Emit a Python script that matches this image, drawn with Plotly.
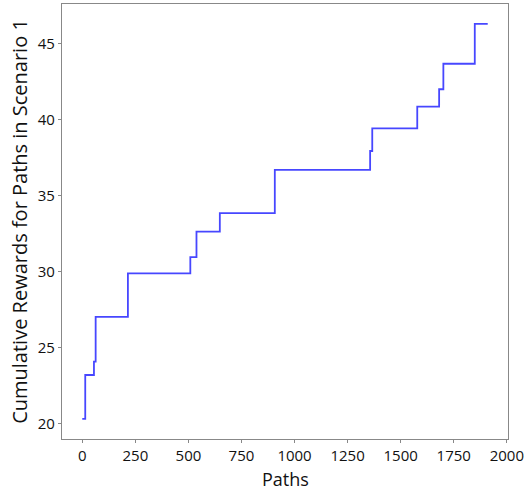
import plotly.graph_objects as go

paths = [0, 14, 55, 63, 215, 509, 538, 648, 907, 1356, 1366, 1578, 1681, 1701, 1849, 1910]
rewards = [20.33, 23.22, 24.10, 27.04, 29.91, 30.97, 32.65, 33.87, 36.71, 37.96, 39.45, 40.88, 42.02, 43.70, 46.32, 46.32]
x_ticks = [0, 250, 500, 750, 1000, 1250, 1500, 1750, 2000]
y_ticks = [20, 25, 30, 35, 40, 45]

fig = go.Figure(go.Scatter(
    x=paths, y=rewards, mode="lines", line_shape="hv",
    line=dict(color="rgba(0,0,255,0.72)", width=1.8),
    showlegend=False,
))

axis_common = dict(
    showline=True, mirror=True, linecolor="#888888", linewidth=1.3,
    showgrid=False, zeroline=False,
    ticks="outside", ticklen=3, tickcolor="#888888", tickwidth=1,
    tickfont=dict(family="Open Sans, Noto Sans, sans-serif", size=15, color="#111111"),
)

fig.update_layout(
    width=529, height=489,
    margin=dict(l=62, r=21, t=4, b=50, autoexpand=False),
    paper_bgcolor="white", plot_bgcolor="white",
    font=dict(family="Open Sans, Noto Sans, sans-serif", color="#111111"),
    xaxis=dict(
        range=[-95.5, 2005.5], tickvals=x_ticks, ticktext=[str(v) for v in x_ticks],
        automargin=False,
        **axis_common,
    ),
    yaxis=dict(
        range=[19.01, 47.63], tickvals=y_ticks, ticktext=[str(v) for v in y_ticks],
        title=dict(text="Cumulative Rewards for Paths in Scenario 1", font=dict(size=20), standoff=4),
        automargin=False,
        **axis_common,
    ),
    annotations=[dict(
        text="Paths", xref="paper", yref="paper", x=0.5, y=0,
        xanchor="center", yanchor="middle", yshift=-40, showarrow=False,
        borderpad=0,
        font=dict(size=18, color="#111111"),
    )],
)

fig.write_html("out.html", config={"displayModeBar": False},
               post_script="document.body.style.margin='0';")
